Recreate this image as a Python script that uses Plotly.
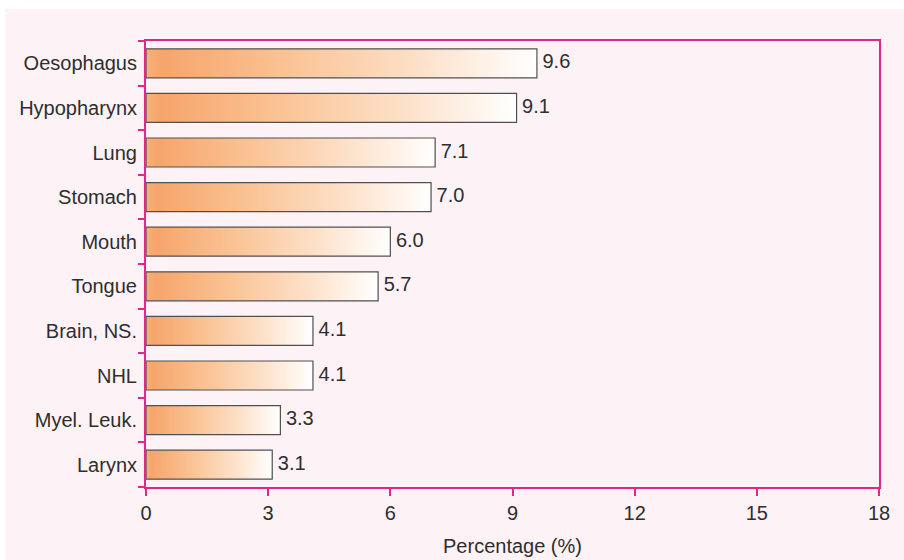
import plotly.graph_objects as go

# Sites ordered bottom-to-top on the numeric y axis
sites = ["Larynx", "Myel. Leuk.", "NHL", "Brain, NS.", "Tongue",
         "Mouth", "Stomach", "Lung", "Hypopharynx", "Oesophagus"]
percent = [3.1, 3.3, 4.1, 4.1, 5.7, 6.0, 7.0, 7.1, 9.1, 9.6]
x_ticks = [0, 3, 6, 9, 12, 15, 18]

HALF = 0.325          # half bar thickness in category units
MAGENTA = "#e3268a"
TEXT = "#2e2e2e"
FONT = "Liberation Sans, Arial, sans-serif"
FS = 20
bar_scale = [[0.0, "#f8b07c"], [0.04, "#f6a56b"], [0.35, "#fac293"],
             [0.7, "#fde1c9"], [1.0, "#ffffff"]]

fig = go.Figure()

# Each bar is a filled rectangle with a horizontal gradient from 0 to its value
for i, v in enumerate(percent):
    fig.add_trace(go.Scatter(
        x=[0, v, v, 0, 0],
        y=[i - HALF, i - HALF, i + HALF, i + HALF, i - HALF],
        mode="lines",
        fill="toself",
        fillgradient=dict(type="horizontal", colorscale=bar_scale,
                          start=0, stop=v),
        line=dict(color="#505050", width=1.2),
        hoverinfo="skip",
        showlegend=False,
    ))

# Value labels at the bar ends
fig.add_trace(go.Scatter(
    x=percent,
    y=list(range(len(sites))),
    mode="text",
    text=[f" {v:.1f}" for v in percent],
    textposition="middle right",
    textfont=dict(family=FONT, size=FS, color=TEXT),
    hoverinfo="skip",
    showlegend=False,
))

fig.update_layout(
    width=904, height=560,
    margin=dict(l=146, r=25, t=41, b=73),
    paper_bgcolor="#ffffff",
    plot_bgcolor="#fce9ef",
    font=dict(family=FONT, size=FS, color=TEXT),
    shapes=[dict(type="rect", xref="paper", yref="paper",
                 x0=-0.1924, x1=1.04, y0=-0.17, y1=1.0717,
                 fillcolor="#fdf2f6", line=dict(width=0), layer="below")],
    xaxis=dict(
        range=[0, 18], tickvals=x_ticks, ticktext=[str(t) for t in x_ticks],
        showgrid=False, zeroline=False, automargin=False,
        showline=True, mirror=True, linecolor=MAGENTA, linewidth=2,
        ticks="outside", ticklen=7, tickwidth=2, tickcolor=MAGENTA,
        tickfont=dict(size=FS, color=TEXT),
        title=dict(text="Percentage (%)", font=dict(size=FS, color=TEXT),
                   standoff=16),
    ),
    yaxis=dict(
        range=[-0.5, len(sites) - 0.5],
        tickvals=list(range(len(sites))), ticktext=sites,
        showgrid=False, zeroline=False, automargin=False,
        showline=True, mirror=True, linecolor=MAGENTA, linewidth=2,
        ticks="outside", ticklen=3, tickcolor="rgba(0,0,0,0)",
        tickfont=dict(size=FS, color=TEXT),
        minor=dict(tickvals=[k - 0.5 for k in range(len(sites) + 1)],
                   ticks="outside", ticklen=6, tickwidth=2,
                   tickcolor=MAGENTA, showgrid=False),
    ),
)

fig.write_html("out.html")
